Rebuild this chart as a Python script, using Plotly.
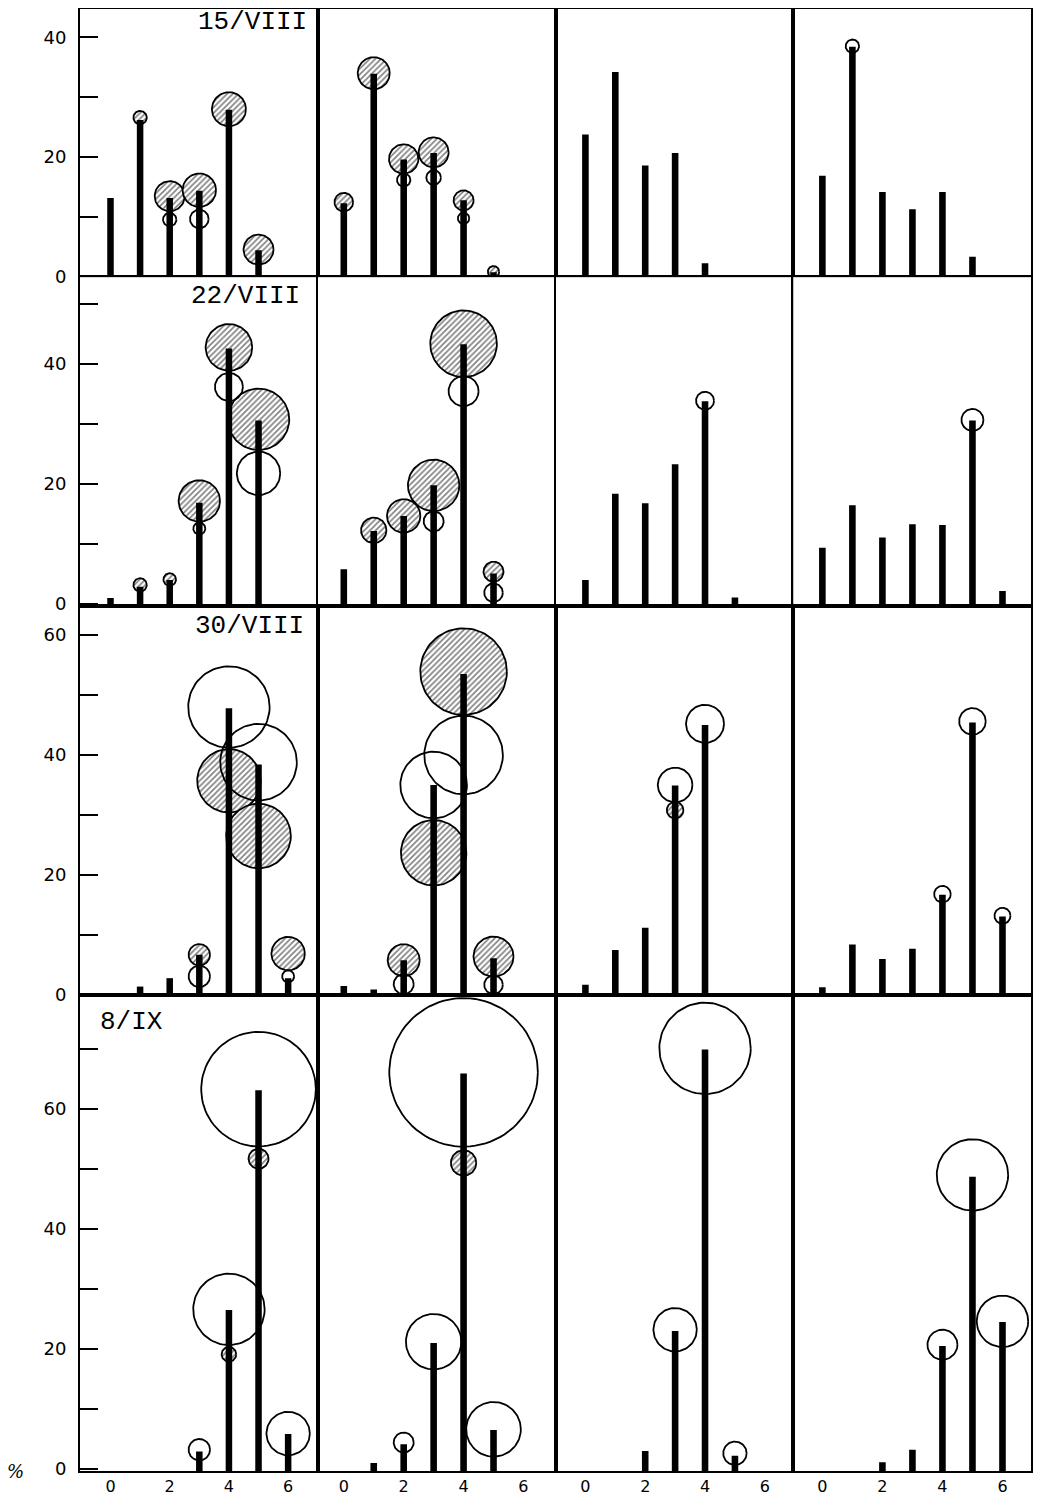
import numpy as np
import plotly.graph_objects as go
from plotly.subplots import make_subplots

# ---------------- data ----------------
dates = ["15/VIII", "22/VIII", "30/VIII", "8/IX"]
x_classes = [0, 1, 2, 3, 4, 5, 6]
x_tick_vals = [0, 2, 4, 6]

# bar heights (%) ; one list per column (panel), x classes 0..6
bars_15VIII = [
    [13.2, 26.2, 13.2, 14.4, 27.9, 4.5, 0],
    [12.3, 33.9, 19.6, 20.7, 12.8, 0.8, 0],
    [23.8, 34.2, 18.6, 20.7, 2.3, 0, 0],
    [16.9, 38.4, 14.2, 11.3, 14.2, 3.4, 0],
]
bars_22VIII = [
    [1.0, 2.9, 4.0, 16.9, 42.6, 30.6, 0],
    [5.8, 12.2, 14.7, 19.8, 43.3, 5.1, 0],
    [4.0, 18.4, 16.8, 23.3, 33.8, 1.1, 0],
    [9.4, 16.5, 11.1, 13.3, 13.2, 30.6, 2.2],
]
bars_30VIII = [
    [0, 1.4, 2.8, 6.7, 47.8, 38.4, 2.8],
    [1.5, 0.9, 5.8, 35.0, 53.5, 6.1, 0],
    [1.7, 7.5, 11.2, 34.9, 45.0, 0, 0],
    [1.3, 8.4, 6.0, 7.7, 16.7, 45.4, 13.1],
]
bars_8IX = [
    [0, 0, 0, 2.9, 26.5, 63.1, 5.8],
    [0, 1.0, 4.1, 21.0, 65.9, 6.5, 0],
    [0, 0, 3.0, 23.0, 69.9, 2.2, 0],
    [0, 0, 1.1, 3.2, 20.5, 48.7, 24.5],
]

# circles: (column, x class, y %, circle size)
hatched_15VIII = [(1, 1, 26.6, 6.7), (1, 2, 13.5, 15), (1, 3, 14.5, 16.7), (1, 4, 28.0, 17),
                  (1, 5, 4.6, 15), (2, 0, 12.5, 9.3), (2, 1, 34.0, 16), (2, 2, 19.7, 14.7),
                  (2, 3, 20.8, 15), (2, 4, 12.8, 10), (2, 5, 0.9, 5.7)]
open_15VIII = [(1, 2, 9.6, 6.7), (1, 3, 9.7, 9.3), (2, 2, 16.2, 6.7), (2, 3, 16.6, 7.3),
               (2, 4, 9.8, 5.7), (4, 1, 38.5, 6.7)]

hatched_22VIII = [(1, 1, 3.2, 6.7), (1, 2, 4.1, 6.3), (1, 3, 17.2, 20.7), (1, 4, 42.8, 23.3),
                  (1, 5, 30.8, 30.7), (2, 1, 12.3, 12.7), (2, 2, 14.7, 16.7), (2, 3, 19.8, 25.7),
                  (2, 4, 43.4, 33.3), (2, 5, 5.4, 10)]
open_22VIII = [(1, 3, 12.6, 6), (1, 4, 36.2, 14), (1, 5, 21.8, 21.7), (2, 3, 13.8, 10),
               (2, 4, 35.5, 15), (2, 5, 1.9, 9.3), (3, 4, 33.9, 9), (4, 5, 30.7, 11)]

hatched_30VIII = [(1, 3, 6.7, 10.7), (1, 4, 35.7, 31.7), (1, 5, 26.5, 32.3), (1, 6, 6.9, 16.7),
                  (2, 2, 5.8, 16), (2, 3, 23.7, 32.7), (2, 4, 53.9, 43.3), (2, 5, 6.4, 20),
                  (3, 3, 30.8, 8.3)]
open_30VIII = [(1, 3, 3.1, 10.7), (1, 4, 48.0, 40.7), (1, 5, 38.8, 38.3), (1, 6, 3.1, 6),
               (2, 2, 1.8, 10), (2, 3, 35.0, 33.3), (2, 4, 40.0, 39.3), (2, 5, 1.7, 9.3),
               (3, 3, 35.0, 17.3), (3, 4, 45.2, 19), (4, 4, 16.8, 8.3), (4, 5, 45.6, 13.3),
               (4, 6, 13.2, 8)]

hatched_8IX = [(1, 4, 19.1, 7.3), (1, 5, 51.7, 10), (2, 4, 51.0, 12.7)]
open_8IX = [(1, 3, 3.2, 10.7), (1, 4, 26.6, 35.7), (1, 5, 63.3, 57.3), (1, 6, 5.9, 21.7),
            (2, 2, 4.4, 10), (2, 3, 21.2, 27.7), (2, 4, 66.1, 74.3), (2, 5, 6.6, 27.3),
            (3, 3, 23.2, 21.7), (3, 4, 70.1, 45.7), (3, 5, 2.6, 11.7),
            (4, 4, 20.7, 15), (4, 5, 49.0, 35.7), (4, 6, 24.6, 25.7)]

y_labels_major = [0, 20, 40, 60]

# ---------------- layout geometry ----------------
# the page body adds an 8px offset; keep the figure small enough to avoid scrollbars
W, H = 1025, 1490
ML, MR, MT, MB = 72, 2, 1, 27
row_ranges = [[0, 44.7], [-0.35, 54.5], [0, 64.8], [-0.35, 79.0]]
col_ranges = [[-1.03, 7.0], [-0.87, 7.07], [-1.0, 6.95], [-0.97, 6.95]]
row_spans = [r[1] - r[0] for r in row_ranges]
row_heights = [s / sum(row_spans) for s in row_spans]

plot_w = W - ML - MR
plot_h = H - MT - MB
col_px = plot_w / 4.0
BAR_W = 0.22  # bar width in x units

all_bars = [bars_15VIII, bars_22VIII, bars_30VIII, bars_8IX]
all_hatched = [hatched_15VIII, hatched_22VIII, hatched_30VIII, hatched_8IX]
all_open = [open_15VIII, open_22VIII, open_30VIII, open_8IX]

fig = make_subplots(rows=4, cols=4, row_heights=row_heights,
                    horizontal_spacing=0, vertical_spacing=0)

theta = np.linspace(0, 2 * np.pi, 90)


def px_per_x(c):
    return col_px / (col_ranges[c - 1][1] - col_ranges[c - 1][0])


def px_per_y(r):
    return plot_h * row_heights[r - 1] / row_spans[r - 1]


def circle_xy(r, c, cx, cy, size):
    return cx + size / px_per_x(c) * np.cos(theta), cy + size / px_per_y(r) * np.sin(theta)


for ri in range(4):
    r = ri + 1
    for (c, cx, cy, s) in all_hatched[ri]:
        xs, ys = circle_xy(r, c, cx, cy, s)
        fig.add_trace(go.Scatter(
            x=xs, y=ys, mode="lines", fill="toself", fillcolor="white",
            fillpattern=dict(shape="/", size=4, solidity=0.4, fgcolor="black", bgcolor="white"),
            line=dict(color="black", width=1.8), hoverinfo="skip"), row=r, col=c)
    for (c, cx, cy, s) in all_open[ri]:
        xs, ys = circle_xy(r, c, cx, cy, s)
        fig.add_trace(go.Scatter(
            x=xs, y=ys, mode="lines", line=dict(color="black", width=1.8),
            hoverinfo="skip"), row=r, col=c)
    # bars (drawn last so they sit on top of the circles)
    for ci in range(4):
        c = ci + 1
        bx, by = [], []
        for xv, yv in zip(x_classes, all_bars[ri][ci]):
            if yv > 0:
                bx += [xv, xv, None]
                by += [0 if r in (1, 3) else row_ranges[ri][0], yv, None]
        fig.add_trace(go.Scatter(x=bx, y=by, mode="lines",
                                 line=dict(color="black", width=BAR_W * px_per_x(c)),
                                 hoverinfo="skip"), row=r, col=c)

tick_font = dict(family="DejaVu Sans", size=18, color="black")
xtick_font = dict(family="DejaVu Sans", size=16, color="black")
for ri in range(4):
    r = ri + 1
    top = row_ranges[ri][1]
    tv = list(range(0, int(top) + 1, 10))
    tt = [str(v) if v in y_labels_major else "" for v in tv]
    for ci in range(4):
        c = ci + 1
        fig.update_xaxes(range=col_ranges[ci], showline=True, mirror=True, linecolor="black",
                         linewidth=1.8, showgrid=False, zeroline=False,
                         tickvals=x_tick_vals, ticks="",
                         showticklabels=(r == 4), tickfont=xtick_font,
                         ticklabelstandoff=0,
                         automargin=False, fixedrange=True, row=r, col=c)
        fig.update_yaxes(range=row_ranges[ri], showline=True, mirror=True, linecolor="black",
                         linewidth=1.8, showgrid=False, zeroline=False,
                         tickvals=tv, ticktext=tt,
                         ticks="inside" if c == 1 else "", ticklen=18, tickwidth=1.5,
                         tickcolor="black",
                         showticklabels=(c == 1), tickfont=tick_font,
                         ticklabelstandoff=8,
                         automargin=False, fixedrange=True, row=r, col=c)

# date labels
date_font = dict(family="Liberation Mono", size=26, color="black")
date_pos = [(0.965, 0.95, "right"), (0.935, 0.944, "right"), (0.952, 0.948, "right"), (0.075, 0.944, "left")]
for ri in range(4):
    xa = "x" if ri == 0 else "x%d" % (ri * 4 + 1)
    ya = "y" if ri == 0 else "y%d" % (ri * 4 + 1)
    px, py, anc = date_pos[ri]
    fig.add_annotation(text=dates[ri], xref=xa + " domain", yref=ya + " domain",
                       x=px, y=py, xanchor=anc, yanchor="middle", showarrow=False,
                       font=date_font)

fig.add_annotation(text="<i>%</i>", xref="paper", yref="paper", x=-0.068, y=0.0,
                   xanchor="center", yanchor="middle", showarrow=False,
                   font=dict(family="DejaVu Serif", size=18, color="black"))

fig.update_layout(width=W, height=H, margin=dict(l=ML, r=MR, t=MT, b=MB),
                  paper_bgcolor="white", plot_bgcolor="white", showlegend=False)

fig.write_html("out.html")
